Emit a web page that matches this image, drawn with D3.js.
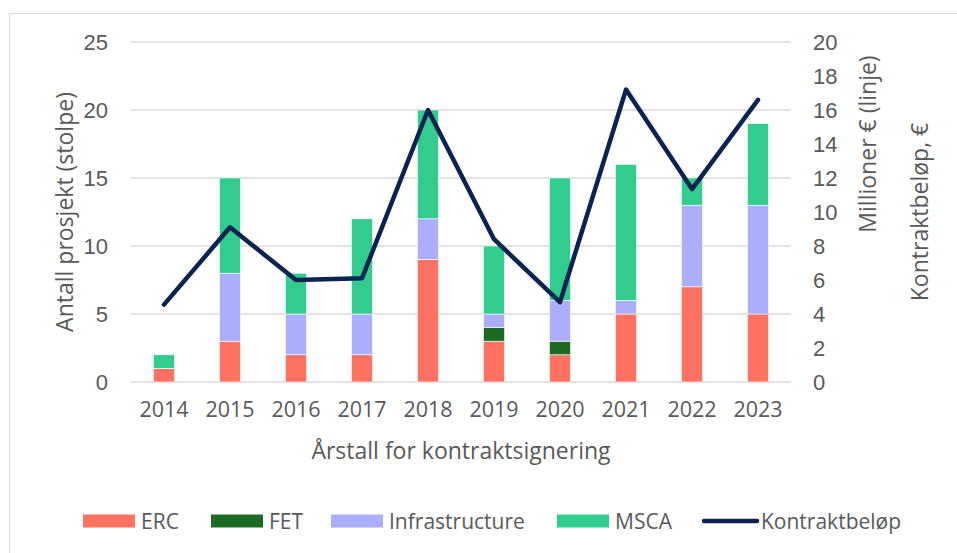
<!DOCTYPE html>
<html>
<head>
<meta charset="utf-8">
<script src="https://cdn.jsdelivr.net/npm/d3@7"></script>
<style>
  body { margin: 0; background: #fff; }
  text { fill: #595959; }
</style>
</head>
<body>
<div id="chart-area"></div>
<script>
var years = ["2014", "2015", "2016", "2017", "2018", "2019", "2020", "2021", "2022", "2023"];
var erc = [1, 3, 2, 2, 9, 3, 2, 5, 7, 5];
var fet = [0, 0, 0, 0, 0, 1, 1, 0, 0, 0];
var infrastructure = [0, 5, 3, 3, 3, 1, 3, 1, 6, 8];
var msca = [1, 7, 3, 7, 8, 5, 9, 10, 2, 6];
var kontrakt = [4.55, 9.1, 6.0, 6.1, 16.0, 8.4, 4.7, 17.2, 11.35, 16.6];

var seriesNames = ["ERC", "FET", "Infrastructure", "MSCA"];
var colors = ["#ff7262", "#1b6b24", "#aaaefc", "#33cc8f"];
var lineColor = "#0a2352";

var W = 957, H = 553;
var margin = { left: 131, right: 166, top: 42, bottom: 171 };
var width = W - margin.left - margin.right;
var height = H - margin.top - margin.bottom;

var labelFont = "Open Sans, sans-serif";
var tickFont = "Liberation Sans, Arial, sans-serif";

var svg = d3.select("#chart-area")
  .append("svg")
  .attr("width", W)
  .attr("height", H);

// chart border
svg.append("rect")
  .attr("x", 9.5)
  .attr("y", 13.5)
  .attr("width", W)
  .attr("height", H)
  .attr("fill", "none")
  .attr("stroke", "#d9d9d9");

var g = svg.append("g")
  .attr("transform", "translate(" + margin.left + "," + margin.top + ")");

// build stacked table
var table = years.map(function(y, i) {
  return { year: y, ERC: erc[i], FET: fet[i], Infrastructure: infrastructure[i], MSCA: msca[i] };
});
var stacked = d3.stack().keys(seriesNames)(table);

var x = d3.scaleBand()
  .domain(years)
  .range([0, width])
  .paddingInner(0.68)
  .paddingOuter(0.34);

var y = d3.scaleLinear().domain([0, 25]).range([height, 0]);
var y2 = d3.scaleLinear().domain([0, 20]).range([height, 0]);

// gridlines
g.append("g")
  .selectAll("line")
  .data(y.ticks(5))
  .enter()
  .append("line")
  .attr("x1", 0)
  .attr("x2", width)
  .attr("y1", function(d) { return y(d); })
  .attr("y2", function(d) { return y(d); })
  .attr("stroke", "#d9d9d9")
  .attr("stroke-width", 1.3);

// left axis
var yAxis = d3.axisLeft(y).ticks(5).tickSize(0).tickPadding(23);
g.append("g")
  .call(yAxis)
  .call(function(a) { a.select(".domain").remove(); })
  .selectAll("text")
  .attr("font-family", tickFont)
  .attr("font-size", "22px")
  .attr("fill", "#595959");

// right axis
var yAxis2 = d3.axisRight(y2).ticks(10).tickSize(0).tickPadding(22);
g.append("g")
  .attr("transform", "translate(" + width + ",0)")
  .call(yAxis2)
  .call(function(a) { a.select(".domain").remove(); })
  .selectAll("text")
  .attr("font-family", tickFont)
  .attr("font-size", "22px")
  .attr("fill", "#595959");

// bottom axis
var xAxis = d3.axisBottom(x).tickSize(0).tickPadding(20);
g.append("g")
  .attr("transform", "translate(0," + height + ")")
  .call(xAxis)
  .call(function(a) { a.select(".domain").remove(); })
  .selectAll("text")
  .attr("font-family", labelFont)
  .attr("font-size", "21.5px")
  .attr("fill", "#595959");

// bars
g.selectAll("g.layer")
  .data(stacked)
  .enter()
  .append("g")
  .attr("class", "layer")
  .attr("fill", function(d, i) { return colors[i]; })
  .selectAll("rect")
  .data(function(d) { return d; })
  .enter()
  .append("rect")
  .attr("x", function(d) { return x(d.data.year); })
  .attr("y", function(d) { return y(d[1]); })
  .attr("width", x.bandwidth())
  .attr("height", function(d) { return y(d[0]) - y(d[1]); })
  .attr("stroke", "#fff")
  .attr("stroke-width", 0.6);

// line
var line = d3.line()
  .x(function(d, i) { return x(years[i]) + x.bandwidth() / 2; })
  .y(function(d) { return y2(d); });

g.append("path")
  .datum(kontrakt)
  .attr("d", line)
  .attr("fill", "none")
  .attr("stroke", lineColor)
  .attr("stroke-width", 4.5)
  .attr("stroke-linejoin", "round")
  .attr("stroke-linecap", "round");

// axis titles
svg.append("text")
  .attr("transform", "translate(73," + (margin.top + height / 2) + ") rotate(-90)")
  .attr("text-anchor", "middle")
  .attr("font-family", labelFont)
  .attr("font-size", "23px")
  .text("Antall prosjekt (stolpe)");

svg.append("text")
  .attr("transform", "translate(876,144) rotate(-90)")
  .attr("text-anchor", "middle")
  .attr("font-family", labelFont)
  .attr("font-size", "23px")
  .text("Millioner € (linje)");

svg.append("text")
  .attr("transform", "translate(928,212) rotate(-90)")
  .attr("text-anchor", "middle")
  .attr("font-family", labelFont)
  .attr("font-size", "23px")
  .text("Kontraktbeløp, €");

svg.append("text")
  .attr("x", margin.left + width / 2)
  .attr("y", 459)
  .attr("text-anchor", "middle")
  .attr("font-family", labelFont)
  .attr("font-size", "23px")
  .text("Årstall for kontraktsignering");

// legend
var legendNames = seriesNames.concat(["Kontraktbeløp"]);
var legendX = [83, 211, 331, 557, 702];
var legend = svg.append("g")
  .selectAll("g")
  .data(legendNames)
  .enter()
  .append("g")
  .attr("transform", function(d, i) { return "translate(" + legendX[i] + ",521)"; });

legend.each(function(d, i) {
  var el = d3.select(this);
  if (i < 4) {
    el.append("rect")
      .attr("x", 0)
      .attr("y", -6.5)
      .attr("width", 52)
      .attr("height", 13)
      .attr("fill", colors[i]);
  } else {
    el.append("line")
      .attr("x1", 2)
      .attr("x2", 55)
      .attr("y1", 0)
      .attr("y2", 0)
      .attr("stroke", lineColor)
      .attr("stroke-width", 4.5)
      .attr("stroke-linecap", "round");
  }
  el.append("text")
    .attr("x", i < 4 ? 58 : 59)
    .attr("y", 7.5)
    .attr("font-family", labelFont)
    .attr("font-size", "21px")
    .text(d);
});
</script>
</body>
</html>
